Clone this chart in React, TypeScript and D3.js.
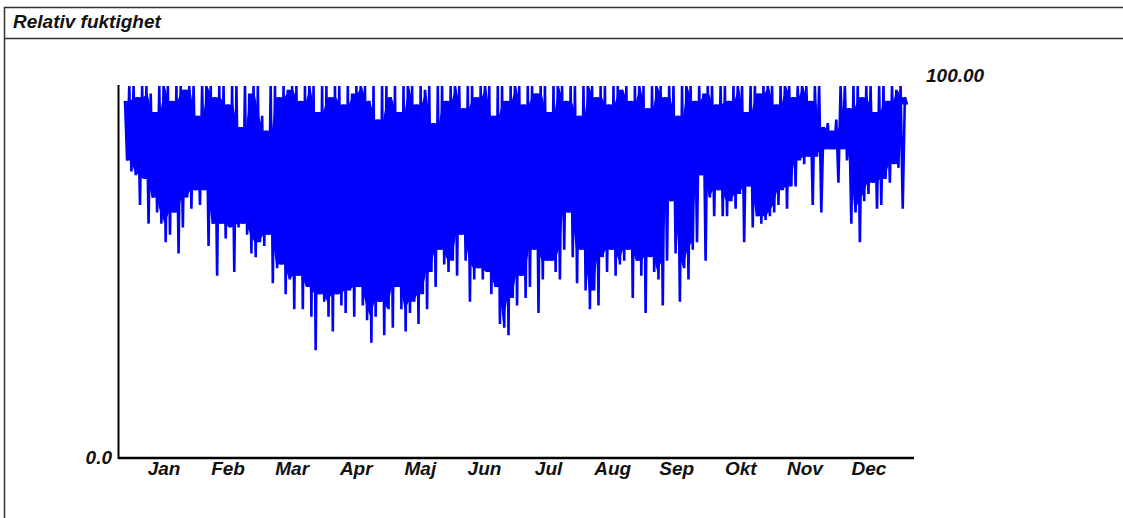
import React, { useEffect, useRef } from 'react';
import * as d3 from 'd3';

// Relativ fuktighet, one year.
// highest and lowest RH (%) for each 2-day step, Jan 1 -> Dec 31
const monthLabels = ['Jan', 'Feb', 'Mar', 'Apr', 'Maj', 'Jun', 'Jul', 'Aug', 'Sep', 'Okt', 'Nov', 'Dec'];

const rhHigh = [
    96, 100, 100, 97, 100, 100, 98, 93, 100, 100, 100, 96, 100, 100, 99, 100, 100, 92, 100, 100,
    100, 97, 100, 100, 95, 100, 100, 89, 100, 98, 100, 100, 92, 88, 100, 100, 97, 100, 99, 100,
    100, 96, 100, 100, 100, 93, 100, 100, 97, 100, 100, 95, 100, 98, 100, 100, 100, 96, 100, 91,
    100, 100, 97, 100, 93, 100, 100, 100, 95, 100, 99, 100, 90, 100, 100, 96, 100, 100, 100, 94,
    100, 100, 97, 100, 100, 100, 92, 100, 100, 96, 100, 100, 100, 95, 100, 100, 98, 100, 100, 93,
    100, 100, 100, 96, 100, 100, 92, 100, 100, 100, 97, 100, 100, 95, 100, 100, 99, 100, 96, 100,
    100, 100, 94, 100, 100, 100, 97, 100, 100, 92, 100, 100, 100, 96, 100, 98, 100, 100, 95, 100,
    100, 96, 100, 100, 100, 93, 100, 100, 98, 100, 100, 100, 95, 100, 100, 100, 97, 100, 100, 100,
    96, 100, 100, 89, 90, 88, 91, 100, 100, 94, 100, 100, 97, 100, 100, 93, 100, 100, 96, 100,
    99, 100, 97
];

const rhLow = [
    80, 77, 76, 68, 75, 63, 70, 66, 63, 58, 60, 66, 55, 62, 70, 67, 72, 68, 72, 57,
    63, 49, 63, 59, 62, 50, 62, 63, 60, 55, 54, 58, 57, 60, 47, 51, 52, 44, 48, 40,
    49, 40, 46, 38, 29, 44, 42, 38, 34, 44, 41, 39, 45, 38, 46, 41, 37, 31, 38, 42,
    33, 40, 35, 46, 40, 34, 39, 42, 36, 44, 40, 50, 46, 56, 52, 50, 53, 49, 60, 53,
    42, 48, 51, 48, 50, 44, 46, 36, 35, 33, 43, 41, 49, 43, 46, 56, 39, 48, 53, 53,
    50, 48, 56, 66, 54, 47, 56, 45, 40, 45, 41, 54, 50, 56, 49, 52, 53, 56, 43, 53,
    49, 39, 54, 50, 48, 41, 53, 69, 55, 42, 51, 48, 56, 58, 76, 53, 70, 65, 72, 65,
    65, 69, 67, 71, 58, 73, 62, 65, 63, 64, 65, 66, 68, 72, 67, 73, 73, 80, 79, 81,
    68, 81, 66, 83, 83, 83, 74, 83, 80, 63, 66, 58, 69, 71, 74, 67, 68, 75, 74, 79,
    78, 67, 95
];

function HumidityChart() {
    const ref = useRef<SVGSVGElement>(null);

    const width = 1123;
    const height = 518;
    const font = '"Liberation Sans", Arial, sans-serif';

    useEffect(() => {
        drawChart();
    }, []);

    function drawChart() {
        const svg = d3.select(ref.current);
        svg.selectAll('*').remove();

        const x = d3.scaleLinear().domain([0, 365]).range([125, 907]);
        const y = d3.scaleLinear().domain([0, 100]).range([458, 86]);
        const monthX = d3.scalePoint<string>().domain(monthLabels).range([164, 869]);

        // frame + title band
        svg.append('path')
            .attr('d', `M4.5,${height} V7.5 H${width}`)
            .attr('fill', 'none')
            .attr('stroke', '#333')
            .attr('stroke-width', 1.5);
        svg.append('line')
            .attr('x1', 4).attr('x2', width)
            .attr('y1', 38.5).attr('y2', 38.5)
            .attr('stroke', '#333')
            .attr('stroke-width', 1.5);
        svg.append('text')
            .attr('x', 13)
            .attr('y', 28)
            .attr('font-family', font)
            .attr('font-size', '19px')
            .attr('font-weight', 'bold')
            .attr('font-style', 'italic')
            .attr('fill', '#111')
            .text('Relativ fuktighet');

        // solid core: the part every neighbouring step covers
        const n = rhHigh.length;
        const core = d3.range(n).map((i) => {
            const a = Math.max(0, i - 1);
            const b = Math.min(n - 1, i + 1);
            return {
                day: Math.min(2 * i + 0.5, 365),
                top: Math.min(rhHigh[a], rhHigh[i], rhHigh[b]),
                bottom: Math.max(rhLow[a], rhLow[i], rhLow[b]),
            };
        });
        const area = d3.area<{day: number, top: number, bottom: number}>()
            .x((d) => x(d.day))
            .y0((d) => y(d.bottom))
            .y1((d) => y(d.top));
        svg.append('path')
            .attr('d', area(core))
            .attr('fill', '#0000ff');

        // hourly-like trace: alternate high and low for each step
        const pts: [number, number][] = [];
        rhHigh.forEach((h, i) => {
            pts.push([2 * i, h]);
            pts.push([Math.min(2 * i + 1, 365), rhLow[i]]);
        });
        const line = d3.line<[number, number]>()
            .x((d) => x(d[0]))
            .y((d) => y(d[1]));
        svg.append('path')
            .attr('d', line(pts))
            .attr('fill', 'none')
            .attr('stroke', '#0000ff')
            .attr('stroke-width', 2.6)
            .attr('stroke-linejoin', 'bevel');

        // axes
        svg.append('line')
            .attr('x1', 118.5).attr('x2', 118.5)
            .attr('y1', y(100) - 1).attr('y2', y(0) + 1)
            .attr('stroke', '#000')
            .attr('stroke-width', 2);
        svg.append('line')
            .attr('x1', 118).attr('x2', 914)
            .attr('y1', y(0)).attr('y2', y(0))
            .attr('stroke', '#000')
            .attr('stroke-width', 2.5);

        svg.append('text')
            .attr('x', 112)
            .attr('y', y(0) + 6)
            .attr('text-anchor', 'end')
            .attr('font-family', font)
            .attr('font-size', '19px')
            .attr('font-weight', 'bold')
            .attr('font-style', 'italic')
            .attr('fill', '#111')
            .text('0.0');
        svg.append('text')
            .attr('x', 926)
            .attr('y', y(100) - 4)
            .attr('font-family', font)
            .attr('font-size', '19px')
            .attr('font-weight', 'bold')
            .attr('font-style', 'italic')
            .attr('fill', '#111')
            .text('100.00');

        svg.selectAll('.month')
            .data(monthLabels)
            .enter()
            .append('text')
            .attr('class', 'month')
            .attr('x', (d) => monthX(d) as number)
            .attr('y', 475)
            .attr('text-anchor', 'middle')
            .attr('font-family', font)
            .attr('font-size', '19px')
            .attr('font-weight', 'bold')
            .attr('font-style', 'italic')
            .attr('fill', '#111')
            .text((d) => d);
    }

    return (
        <svg
            ref={ref}
            width={width}
            height={height}
            style={{position: 'absolute', left: 0, top: 0, background: '#fff'}}
        />
    );
}

export default function App() {
    return <HumidityChart/>;
}
